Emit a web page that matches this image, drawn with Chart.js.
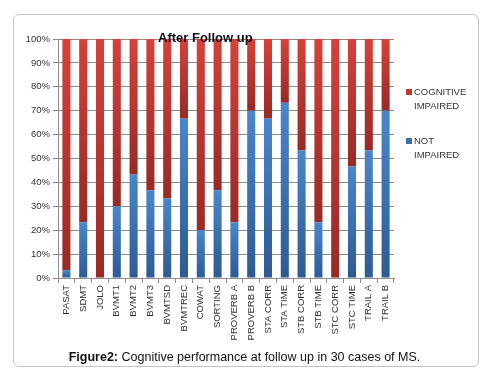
<!DOCTYPE html>
<html>
<head>
<meta charset="utf-8">
<script src="https://cdn.jsdelivr.net/npm/chart.js@4/dist/chart.umd.min.js"></script>
<style>
  html, body { margin:0; padding:0; background:#fff; }
  #wrap { position:relative; width:489px; height:376px; overflow:hidden; font-family:"Liberation Sans", Arial, sans-serif; }
  #card { position:absolute; left:13px; top:14px; width:466px; height:353px; border:1px solid #c4c4c4; border-radius:6px; box-sizing:border-box; }
  #c { position:absolute; left:0; top:0; }
  #title { position:absolute; left:158px; top:30px; font-weight:bold; font-size:13px; color:#111; white-space:nowrap; }
  .leg { position:absolute; left:406px; font-size:9.5px; color:#333; line-height:14px; }
  .sw { position:absolute; left:0; top:4px; width:6px; height:6px; }
  .leg span.t { display:block; padding-left:8px; }
  #cap { position:absolute; left:0; width:489px; top:350px; text-align:center; font-size:12.5px; color:#111; white-space:nowrap; }
</style>
</head>
<body>
<div id="wrap">
  <div id="card"></div>
  <canvas id="c" width="489" height="376"></canvas>
  <div id="title">After Follow up</div>
  <div class="leg" style="top:85px;"><div class="sw" style="background:#c0392f"></div><span class="t">COGNITIVE<br>IMPAIRED</span></div>
  <div class="leg" style="top:134px;"><div class="sw" style="background:#3a6fb0"></div><span class="t">NOT<br>IMPAIRED</span></div>
  <div id="cap"><b>Figure2:</b> Cognitive performance at follow up in 30 cases of MS.</div>
</div>
<script>
const categories = ["PASAT","SDMT","JOLO","BVMT1","BVMT2","BVMT3","BVMTSD","BVMTREC","COWAT","SORTING","PROVERB A","PROVERB B","STA CORR","STA TIME","STB CORR","STB TIME","STC CORR","STC TIME","TRAIL A","TRAIL B"];
const notImpaired = [3.3,23.3,0,30,43.3,36.7,33.3,66.7,20,36.7,23.3,70,66.7,73.3,53.3,23.3,0,46.7,53.3,70];
const cognitiveImpaired = [96.7,76.7,100,70,56.7,63.3,66.7,33.3,80,63.3,76.7,30,33.3,26.7,46.7,76.7,100,53.3,46.7,30];
const yTicks = [0,10,20,30,40,50,60,70,80,90,100];

function segGrad(ctx, light, dark) {
  const chart = ctx.chart;
  if (!chart.chartArea || ctx.dataIndex === undefined) return light;
  const ys = chart.scales.y;
  const i = ctx.dataIndex;
  let lo, hi;
  if (ctx.datasetIndex === 0) { lo = 0; hi = notImpaired[i]; }
  else { lo = notImpaired[i]; hi = notImpaired[i] + cognitiveImpaired[i]; }
  const yTop = ys.getPixelForValue(hi), yBot = ys.getPixelForValue(lo);
  if (!(yBot - yTop > 0.5)) return light;
  const g = chart.ctx.createLinearGradient(0, yTop, 0, yBot);
  g.addColorStop(0, light);
  g.addColorStop(1, dark);
  return g;
}

const font = { family: "'Liberation Sans', Arial, sans-serif", size: 9.5 };

new Chart(document.getElementById('c'), {
  type: 'bar',
  data: {
    labels: categories,
    datasets: [
      { label: 'NOT IMPAIRED', data: notImpaired,
        backgroundColor: c => segGrad(c, '#4a86cb', '#2d5a92') },
      { label: 'COGNITIVE IMPAIRED', data: cognitiveImpaired,
        backgroundColor: c => segGrad(c, '#d6413b', '#982a26') }
    ]
  },
  options: {
    responsive: false,
    animation: false,
    layout: { padding: { left: 0, top: 39, right: 95, bottom: 20 } },
    datasets: { bar: { barPercentage: 0.48, categoryPercentage: 1.0, borderWidth: 0 } },
    plugins: { legend: { display: false }, title: { display: false }, tooltip: { enabled: false } },
    scales: {
      x: {
        stacked: true,
        grid: { display: true, drawOnChartArea: false, offset: true, tickLength: 5, color: '#8c8c8c' },
        border: { color: '#8c8c8c' },
        ticks: { font: font, color: '#333', maxRotation: 90, minRotation: 90, padding: 2, autoSkip: false },
        afterFit: s => { s.height = 78; }
      },
      y: {
        stacked: true, min: 0, max: 100,
        afterBuildTicks: s => { s.ticks = yTicks.map(v => ({ value: v })); },
        grid: { color: '#8c8c8c', tickLength: 5 },
        border: { color: '#8c8c8c' },
        ticks: { font: font, color: '#333', padding: 3, callback: v => v + '%' },
        afterFit: s => { s.width = 58; }
      }
    }
  }
});
</script>
</body>
</html>
